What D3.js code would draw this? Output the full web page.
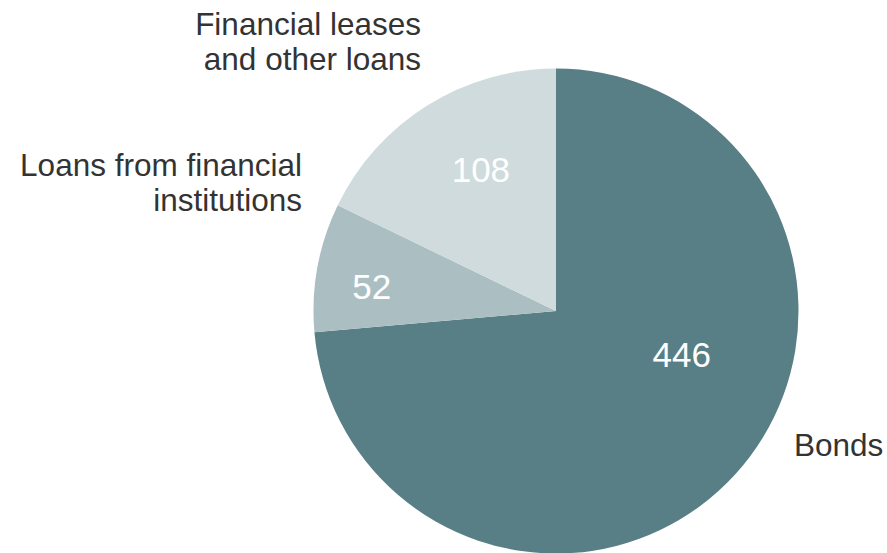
<!DOCTYPE html>
<html>
<head>
<meta charset="utf-8">
<script src="https://cdn.jsdelivr.net/npm/d3@7"></script>
<style>
  html, body { margin: 0; padding: 0; background: #ffffff; }
  svg { display: block; font-family: "Liberation Sans", Arial, sans-serif; }
</style>
</head>
<body>
<svg id="chart" width="887" height="553"></svg>
<script>
// Debt structure by instrument
const categories = ["Bonds", "Loans from financial institutions", "Financial leases and other loans"];
const values = [446, 52, 108];
const colors = ["#587f85", "#abbfc3", "#cfdbdd"];

// Category label lines as shown beside the pie
const labelLines = [
  ["Bonds"],
  ["Loans from financial", "institutions"],
  ["Financial leases", "and other loans"]
];

const width = 887, height = 553;
const cx = 556, cy = 311, radius = 242.5;

const svg = d3.select("#chart");
const g = svg.append("g").attr("transform", `translate(${cx},${cy})`);

const data = categories.map((c, i) => ({ category: c, value: values[i], color: colors[i], lines: labelLines[i] }));

const pie = d3.pie().sort(null).value(d => d.value).startAngle(0).endAngle(2 * Math.PI);
const arc = d3.arc().innerRadius(0).outerRadius(radius);
const arcs = pie(data);

g.selectAll("path.slice")
  .data(arcs)
  .join("path")
  .attr("class", "slice")
  .attr("d", arc)
  .attr("fill", d => d.data.color);

// Value labels: placed along each slice at a per-slice angle and radius
const valueLabelPos = [
  { angle: 109, r: 133 },
  { angle: 277.7, r: 186 },
  { angle: 332, r: 160 }
];
g.selectAll("text.value")
  .data(arcs)
  .join("text")
  .attr("class", "value")
  .attr("x", (d, i) => valueLabelPos[i].r * Math.sin(valueLabelPos[i].angle * Math.PI / 180))
  .attr("y", (d, i) => -valueLabelPos[i].r * Math.cos(valueLabelPos[i].angle * Math.PI / 180))
  .attr("text-anchor", "middle")
  .attr("dy", "0.36em")
  .attr("fill", "#ffffff")
  .attr("font-size", 35)
  .text(d => d.data.value);

// Category labels outside the pie
const catLabelPos = [
  { x: 794, y: 456, anchor: "start" },
  { x: 302, y: 176, anchor: "end" },
  { x: 421, y: 35, anchor: "end" }
];
const lineHeight = 35;
data.forEach((d, i) => {
  const p = catLabelPos[i];
  const t = svg.append("text")
    .attr("x", p.x)
    .attr("y", p.y)
    .attr("text-anchor", p.anchor)
    .attr("fill", "#333333")
    .attr("font-size", 31.5);
  d.lines.forEach((ln, j) => {
    t.append("tspan").attr("x", p.x).attr("y", p.y + j * lineHeight).text(ln);
  });
});
</script>
</body>
</html>
